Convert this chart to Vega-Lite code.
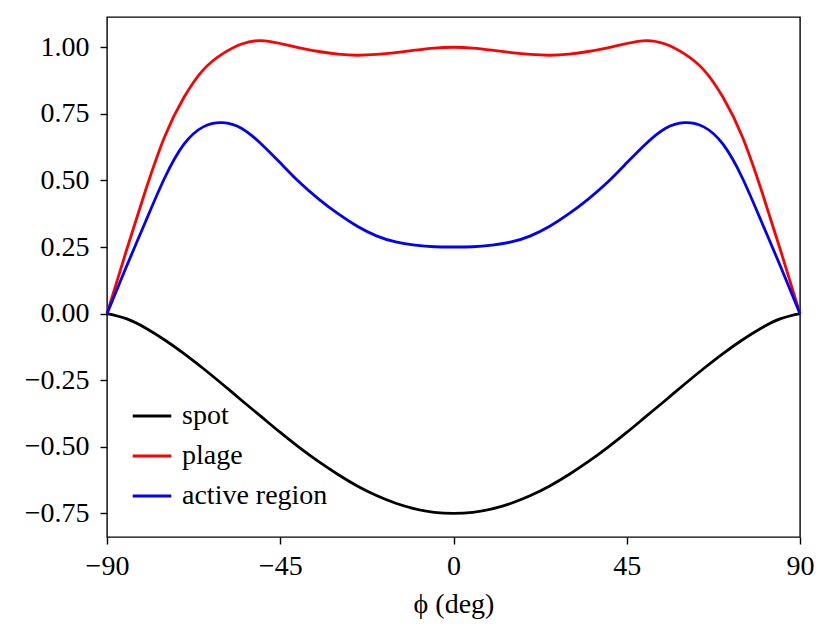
{
  "$schema": "https://vega.github.io/schema/vega-lite/v6.json",
  "width": 693,
  "height": 520,
  "autosize": {"type": "none"},
  "padding": {"left": 107, "top": 17, "right": 31, "bottom": 99},
  "background": "white",
  "config": {
    "view": {"stroke": "black", "strokeWidth": 1.4},
    "axis": {
      "domain": false,
      "grid": false,
      "tickColor": "black",
      "tickWidth": 1.4,
      "tickSize": 7,
      "labelColor": "black",
      "labelFont": "Liberation Serif",
      "labelFontSize": 28,
      "titleFont": "Liberation Serif",
      "titleFontSize": 28,
      "titleFontWeight": "normal",
      "titleColor": "black"
    },
    "legend": {
      "labelFont": "Liberation Serif",
      "labelFontSize": 28,
      "labelColor": "black"
    }
  },
  "data": {
    "values": [
      {"phi": -90, "value": 0.000, "series": "spot"},
      {"phi": -85, "value": -0.019, "series": "spot"},
      {"phi": -80, "value": -0.054, "series": "spot"},
      {"phi": -75, "value": -0.099, "series": "spot"},
      {"phi": -70, "value": -0.150, "series": "spot"},
      {"phi": -65, "value": -0.206, "series": "spot"},
      {"phi": -60, "value": -0.265, "series": "spot"},
      {"phi": -55, "value": -0.326, "series": "spot"},
      {"phi": -50, "value": -0.386, "series": "spot"},
      {"phi": -45, "value": -0.446, "series": "spot"},
      {"phi": -40, "value": -0.503, "series": "spot"},
      {"phi": -35, "value": -0.556, "series": "spot"},
      {"phi": -30, "value": -0.604, "series": "spot"},
      {"phi": -25, "value": -0.647, "series": "spot"},
      {"phi": -20, "value": -0.683, "series": "spot"},
      {"phi": -15, "value": -0.712, "series": "spot"},
      {"phi": -10, "value": -0.733, "series": "spot"},
      {"phi": -5, "value": -0.746, "series": "spot"},
      {"phi": 0, "value": -0.750, "series": "spot"},
      {"phi": 5, "value": -0.746, "series": "spot"},
      {"phi": 10, "value": -0.733, "series": "spot"},
      {"phi": 15, "value": -0.712, "series": "spot"},
      {"phi": 20, "value": -0.683, "series": "spot"},
      {"phi": 25, "value": -0.647, "series": "spot"},
      {"phi": 30, "value": -0.604, "series": "spot"},
      {"phi": 35, "value": -0.556, "series": "spot"},
      {"phi": 40, "value": -0.503, "series": "spot"},
      {"phi": 45, "value": -0.446, "series": "spot"},
      {"phi": 50, "value": -0.386, "series": "spot"},
      {"phi": 55, "value": -0.326, "series": "spot"},
      {"phi": 60, "value": -0.265, "series": "spot"},
      {"phi": 65, "value": -0.206, "series": "spot"},
      {"phi": 70, "value": -0.150, "series": "spot"},
      {"phi": 75, "value": -0.099, "series": "spot"},
      {"phi": 80, "value": -0.054, "series": "spot"},
      {"phi": 85, "value": -0.019, "series": "spot"},
      {"phi": 90, "value": 0.000, "series": "spot"},

      {"phi": -90, "value": 0.000, "series": "plage"},
      {"phi": -85, "value": 0.235, "series": "plage"},
      {"phi": -80, "value": 0.462, "series": "plage"},
      {"phi": -75, "value": 0.665, "series": "plage"},
      {"phi": -70, "value": 0.812, "series": "plage"},
      {"phi": -65, "value": 0.915, "series": "plage"},
      {"phi": -60, "value": 0.975, "series": "plage"},
      {"phi": -55, "value": 1.012, "series": "plage"},
      {"phi": -50, "value": 1.025, "series": "plage"},
      {"phi": -45, "value": 1.014, "series": "plage"},
      {"phi": -40, "value": 0.998, "series": "plage"},
      {"phi": -35, "value": 0.984, "series": "plage"},
      {"phi": -30, "value": 0.974, "series": "plage"},
      {"phi": -25, "value": 0.970, "series": "plage"},
      {"phi": -20, "value": 0.973, "series": "plage"},
      {"phi": -15, "value": 0.980, "series": "plage"},
      {"phi": -10, "value": 0.989, "series": "plage"},
      {"phi": -5, "value": 0.997, "series": "plage"},
      {"phi": 0, "value": 1.000, "series": "plage"},
      {"phi": 5, "value": 0.997, "series": "plage"},
      {"phi": 10, "value": 0.989, "series": "plage"},
      {"phi": 15, "value": 0.980, "series": "plage"},
      {"phi": 20, "value": 0.973, "series": "plage"},
      {"phi": 25, "value": 0.970, "series": "plage"},
      {"phi": 30, "value": 0.974, "series": "plage"},
      {"phi": 35, "value": 0.984, "series": "plage"},
      {"phi": 40, "value": 0.998, "series": "plage"},
      {"phi": 45, "value": 1.014, "series": "plage"},
      {"phi": 50, "value": 1.025, "series": "plage"},
      {"phi": 55, "value": 1.012, "series": "plage"},
      {"phi": 60, "value": 0.975, "series": "plage"},
      {"phi": 65, "value": 0.915, "series": "plage"},
      {"phi": 70, "value": 0.812, "series": "plage"},
      {"phi": 75, "value": 0.665, "series": "plage"},
      {"phi": 80, "value": 0.462, "series": "plage"},
      {"phi": 85, "value": 0.235, "series": "plage"},
      {"phi": 90, "value": 0.000, "series": "plage"},

      {"phi": -90, "value": 0.000, "series": "active region"},
      {"phi": -85, "value": 0.175, "series": "active region"},
      {"phi": -80, "value": 0.345, "series": "active region"},
      {"phi": -75, "value": 0.510, "series": "active region"},
      {"phi": -70, "value": 0.636, "series": "active region"},
      {"phi": -65, "value": 0.701, "series": "active region"},
      {"phi": -60, "value": 0.717, "series": "active region"},
      {"phi": -55, "value": 0.695, "series": "active region"},
      {"phi": -50, "value": 0.638, "series": "active region"},
      {"phi": -45, "value": 0.566, "series": "active region"},
      {"phi": -40, "value": 0.493, "series": "active region"},
      {"phi": -35, "value": 0.430, "series": "active region"},
      {"phi": -30, "value": 0.375, "series": "active region"},
      {"phi": -25, "value": 0.328, "series": "active region"},
      {"phi": -20, "value": 0.292, "series": "active region"},
      {"phi": -15, "value": 0.269, "series": "active region"},
      {"phi": -10, "value": 0.257, "series": "active region"},
      {"phi": -5, "value": 0.251, "series": "active region"},
      {"phi": 0, "value": 0.250, "series": "active region"},
      {"phi": 5, "value": 0.251, "series": "active region"},
      {"phi": 10, "value": 0.257, "series": "active region"},
      {"phi": 15, "value": 0.269, "series": "active region"},
      {"phi": 20, "value": 0.292, "series": "active region"},
      {"phi": 25, "value": 0.328, "series": "active region"},
      {"phi": 30, "value": 0.375, "series": "active region"},
      {"phi": 35, "value": 0.430, "series": "active region"},
      {"phi": 40, "value": 0.493, "series": "active region"},
      {"phi": 45, "value": 0.566, "series": "active region"},
      {"phi": 50, "value": 0.638, "series": "active region"},
      {"phi": 55, "value": 0.695, "series": "active region"},
      {"phi": 60, "value": 0.717, "series": "active region"},
      {"phi": 65, "value": 0.701, "series": "active region"},
      {"phi": 70, "value": 0.636, "series": "active region"},
      {"phi": 75, "value": 0.510, "series": "active region"},
      {"phi": 80, "value": 0.345, "series": "active region"},
      {"phi": 85, "value": 0.175, "series": "active region"},
      {"phi": 90, "value": 0.000, "series": "active region"}
    ]
  },
  "mark": {"type": "line", "strokeWidth": 2.8, "interpolate": "natural"},
  "encoding": {
    "x": {
      "field": "phi",
      "type": "quantitative",
      "scale": {"domain": [-90, 90], "nice": false, "zero": false},
      "axis": {"values": [-90, -45, 0, 45, 90], "format": "d", "title": "ϕ (deg)", "labelPadding": 8, "titlePadding": 10, "labelFlush": false}
    },
    "y": {
      "field": "value",
      "type": "quantitative",
      "scale": {"domain": [-0.8386, 1.1135], "nice": false, "zero": false},
      "axis": {"values": [-0.75, -0.5, -0.25, 0, 0.25, 0.5, 0.75, 1.0], "format": ".2f", "title": null, "labelPadding": 11}
    },
    "color": {
      "field": "series",
      "type": "nominal",
      "sort": ["spot", "plage", "active region"],
      "scale": {"domain": ["spot", "plage", "active region"], "range": ["#000000", "#ff0000", "#0000ff"]},
      "legend": {
        "title": null,
        "orient": "none",
        "legendX": 24,
        "legendY": 378,
        "padding": 0,
        "symbolType": "stroke",
        "symbolSize": 1490,
        "symbolStrokeWidth": 2.8,
        "labelOffset": 9,
        "rowPadding": 5
      }
    }
  }
}
